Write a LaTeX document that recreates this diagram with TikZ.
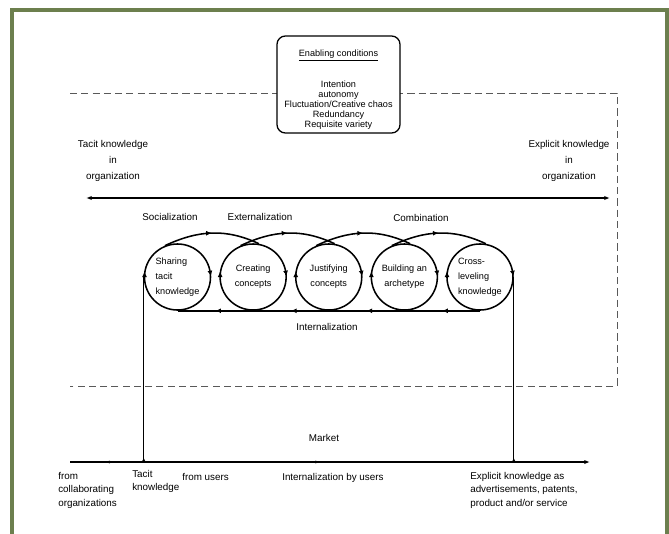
\documentclass[tikz,border=0pt]{standalone}
\usepackage{fontspec}
\setmainfont{Liberation Sans}
\usetikzlibrary{arrows.meta, positioning, decorations.markings}
\definecolor{frameolive}{RGB}{108,127,78}

\begin{document}
\begin{tikzpicture}[x=0.025cm, y=-0.025cm, node distance={18.9mm},
    main/.style = {draw, circle, line width=1.1pt, minimum size=16.5mm, inner sep=0pt,
        font=\fontsize{6.5}{10.5}\selectfont,
        postaction={decorate}, decoration={markings,
            mark=at position 0.03 with {\arrow{Latex[reversed,length=4pt,width=3.5pt]}},
            mark=at position 0.5 with {\arrow{Latex[reversed,length=4pt,width=3.5pt]}}}},
    mid/.style = {postaction={decorate}, decoration={markings,
            mark=at position 0.5 with {\arrow{Latex[length=4pt,width=3.5pt]}}}},
    txt/.style = {font=\fontsize{7}{9.5}\selectfont, inner sep=0pt},
    loopline/.style = {line width=1.1pt}]
    \useasboundingbox (0,0) rectangle (669,533);
    \draw[frameolive, line width=2.4pt] (12,540) -- (12,10) -- (667,10) -- (667,540);

    % organization boundary
    \draw[dashed, dash pattern=on 5pt off 3pt, line width=0.6pt, black!65] (70,93) -- (617,93) -- (617,386) -- (70,386);
    \node[draw, rounded corners=6pt, fill=white, line width=0.9pt, minimum width=30.75mm, minimum height=24.25mm] (enabling) at (338.5,84.5) {};
    \node[txt, align=center, anchor=north, font=\fontsize{6.5}{7.1}\selectfont] (conds) at (338.5,50)
        {\underline{Enabling conditions}\\[13pt] Intention\\autonomy\\Fluctuation/Creative chaos\\Redundancy\\Requisite variety};

    \node[txt, align=center, font=\fontsize{7}{11.4}\selectfont] (tacitorg) at (113,161) {Tacit knowledge\\in\\organization};
    \node[txt, align=center, font=\fontsize{7}{11.4}\selectfont] (explorg) at (569,161) {Explicit knowledge\\in\\organization};
    \coordinate (orgL) at (86,198);
    \coordinate (orgR) at (610,198);
    \draw[{Latex[length=4pt]}-{Latex[length=4pt]}, line width=0.9pt] (orgL) -- (orgR);

    % spiral of the five phases
    \node[main, align=left] (c1) at (177.5,277) {Sharing\\tacit\\knowledge};
    \node[main, align=center] (c2) [right of=c1] {Creating\\concepts};
    \node[main, align=center] (c3) [right of=c2] {Justifying\\concepts};
    \node[main, align=center] (c4) [right of=c3] {Building an\\archetype};
    \node[main, align=left] (c5) [right of=c4] {Cross-\\leveling\\knowledge};
    \draw[loopline, mid] (c1.112) to[out=25, in=155] (c2.80);
    \draw[loopline, mid] (c2.112) to[out=25, in=155] (c3.80);
    \draw[loopline, mid] (c3.112) to[out=25, in=155] (c4.80);
    \draw[loopline, mid] (c4.112) to[out=25, in=155] (c5.80);
    \draw[loopline, mid] (c5.south) -- (c4.south);
    \draw[loopline, mid] (c4.south) -- (c3.south);
    \draw[loopline, mid] (c3.south) -- (c2.south);
    \draw[loopline, mid] (c2.south) -- (c1.south);
    \node[txt] (social) at (170,217) {Socialization};
    \node[txt] (extern) at (260,217) {Externalization};
    \node[txt] (combin) at (421,218) {Combination};
    \node[txt] (intern) at (327,327) {Internalization};

    % market
    \node[txt] (market) at (324,438) {Market};
    \coordinate (mktL) at (70,462);
    \coordinate (mktR) at (590,462);
    \draw[-{Latex[length=4pt]}, line width=0.8pt, postaction={decorate}, decoration={markings,
            mark=at position 0.083 with {\arrow{Latex[length=3pt]}},
            mark=at position 0.48 with {\arrow{Latex[length=3pt]}}}] (mktL) -- (mktR);
    \draw[{Latex[reversed,length=3pt,width=3pt]}-, line width=0.4pt] (c1.west |- mktL) -- (c1.west);
    \draw[{Latex[reversed,length=3pt,width=3pt]}-, line width=0.7pt] (c5.east |- mktL) -- (c5.east);
    \node[txt, align=left, anchor=north west] (collab) at (58,472) {from\\collaborating\\organizations};
    \node[txt, align=left, anchor=north west] (tacitmkt) at (132,470) {Tacit\\knowledge};
    \node[txt, anchor=north west] (users) at (182,473) {from users};
    \node[txt, anchor=north west] (byusers) at (282,473) {Internalization by users};
    \node[txt, align=left, anchor=north west] (explmkt) at (470,472) {Explicit knowledge as\\advertisements, patents,\\product and/or service};
\end{tikzpicture}
\end{document}
